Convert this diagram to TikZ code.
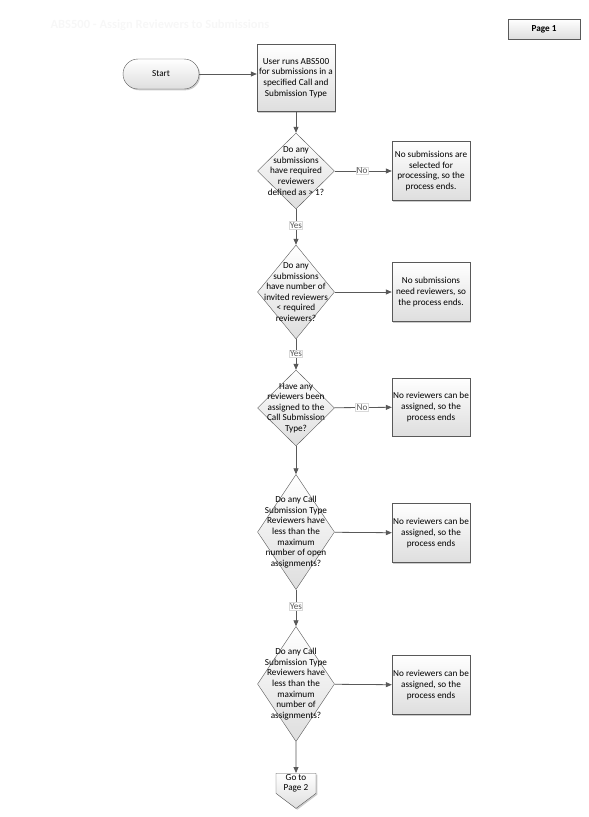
\documentclass[tikz,border=0pt]{standalone}
\usepackage{fontspec}
\setmainfont{Carlito}
\usetikzlibrary{shapes.geometric, shapes.misc, shapes.symbols, arrows.meta, positioning, shadows}
\definecolor{FlowLine}{HTML}{595959}
\definecolor{FlowShade}{HTML}{DEDEDE}
\definecolor{FlowShadow}{HTML}{9A9A9A}
\newcommand{\flowfont}{\fontsize{9.2}{10.6}\selectfont}
\tikzset{
    % boxes with a light gradient and a shadow
    process/.style={
        rectangle,
        draw=FlowLine,
        top color=white,
        bottom color=FlowShade,
        drop shadow={shadow xshift=1.3pt, shadow yshift=-1.3pt, fill=FlowShadow},
        minimum width=78pt,
        minimum height=59pt,
        inner sep=1pt,
        align=center,
        font=\flowfont
    },
    terminal/.style={
        process,
        rounded rectangle,
        minimum height=30pt
    },
    decision/.style={
        diamond,
        draw=FlowLine,
        top color=white,
        bottom color=FlowShade,
        minimum width=77pt,
        minimum height=76pt,
        inner sep=0pt
    },
    decision text/.style={
        align=center,
        inner sep=0pt,
        font=\flowfont
    },
    offpage/.style={
        signal,
        signal to=south,
        signal pointer angle=106,
        draw=FlowLine,
        top color=white,
        bottom color=FlowShade,
        drop shadow={shadow xshift=1.3pt, shadow yshift=-1.3pt, fill=FlowShadow},
        minimum width=40pt,
        minimum height=24pt,
        inner sep=1pt,
        align=center,
        font=\flowfont
    },
    answer/.style={
        fill=white,
        draw=gray!30,
        inner sep=0.8pt,
        font=\flowfont
    },
    arrow style/.style={
        -{Triangle[length=6pt, width=5pt]},
        line width=0.8pt,
        FlowLine
    }
}
\begin{document}
\begin{tikzpicture}[x=1pt, y=-1pt]
    \useasboundingbox (0,0) rectangle (589,817);

    % faint title and page tag
    \node[font=\bfseries\fontsize{12.5}{14}\selectfont, text=black!3] (title) at (160,25) {ABS500 - Assign Reviewers to Submissions};
    \node[process, font=\flowfont\bfseries, minimum width=72pt, minimum height=20pt] (page) at (544,29) {Page 1};

    % main column
    \node[terminal] (start) at (161,74) {Start};
    \node[process, minimum height=67pt] (run) at (296,78) {User runs ABS500\\for submissions in a\\specified Call and\\Submission Type};
    \node[decision, label={[decision text]center:{Do any\\submissions\\have required\\reviewers\\defined as > 1?}}] (q1) at (296,171) {};
    \node[decision, minimum height=94pt, label={[decision text]center:{Do any\\submissions\\have number of\\invited reviewers\\< required\\reviewers?}}] (q2) at (296,292) {};
    \node[decision, label={[decision text]center:{Have any\\reviewers been\\assigned to the\\Call Submission\\Type?}}] (q3) at (296,408) {};
    \node[decision, minimum height=115pt, label={[decision text]center:{Do any Call\\Submission Type\\Reviewers have\\less than the\\maximum\\number of open\\assignments?}}] (q4) at (296,532) {};
    \node[decision, minimum height=115pt, label={[decision text]center:{Do any Call\\Submission Type\\Reviewers have\\less than the\\maximum\\number of\\assignments?}}] (q5) at (296,684) {};
    \node[offpage, anchor=north] (next) at (296,773) {Go to\\Page 2};

    % end boxes
    \node[process] (e1) at (431,171) {No submissions are\\selected for\\processing, so the\\process ends.};
    \node[process] (e2) at (431,292) {No submissions\\need reviewers, so\\the process ends.};
    \node[process, minimum height=58pt] (e3) at (431,407) {No reviewers can be\\assigned, so the\\process ends};
    \node[process] (e4) at (431,533) {No reviewers can be\\assigned, so the\\process ends};
    \node[process] (e5) at (431,685) {No reviewers can be\\assigned, so the\\process ends};

    \draw[arrow style] (start.east) -- (start.east -| run.west);
    \draw[arrow style] (run) -- (q1);
    \draw[arrow style] (q1) -- node[answer, pos=0.45] {Yes} (q2);
    \draw[arrow style] (q2) -- node[answer, pos=0.48] {Yes} (q3);
    \draw[arrow style] (q3) -- (q4);
    \draw[arrow style] (q4) -- node[answer, pos=0.46] {Yes} (q5);
    \draw[arrow style] (q5) -- (next);

    \draw[arrow style] (q1) -- node[answer, pos=0.48] {No} (e1);
    \draw[arrow style] (q2) -- (e2);
    \draw[arrow style] (q3) -- node[answer, pos=0.48] {No} (e3);
    \draw[arrow style] (q4) -- (e4);
    \draw[arrow style] (q5) -- (e5);
\end{tikzpicture}
\end{document}
